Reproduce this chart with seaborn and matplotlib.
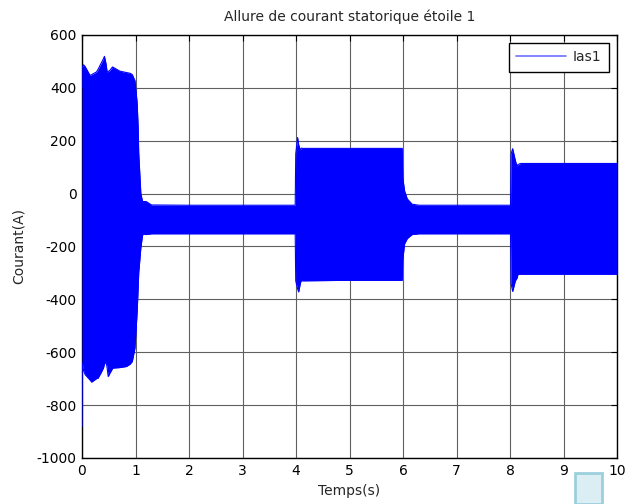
import numpy as np
import pandas as pd
import matplotlib
matplotlib.use("Agg")
import matplotlib.pyplot as plt
from matplotlib.lines import Line2D
from matplotlib.patches import Rectangle
import seaborn as sns

# envelope of the stator current Ias1
t_env = [0.0, 0.004, 0.03, 0.06, 0.15, 0.18, 0.27, 0.30, 0.35, 0.40, 0.42, 0.45, 0.47,
         0.49, 0.52, 0.57, 0.58, 0.71, 0.83, 0.90, 0.94, 0.99, 1.03, 1.05, 1.06, 1.10,
         1.13, 1.14, 1.20, 1.30, 2.00, 3.00, 3.985, 3.995, 4.03, 4.05, 4.08, 4.10,
         4.12, 5.00, 5.985, 5.995, 6.03, 6.08, 6.17, 6.30, 7.00, 8.01, 8.02, 8.05,
         8.10, 8.13, 8.15, 8.20, 9.00, 10.0]
upper = [400, 480, 487, 480, 447, 450, 460, 470, 490, 510, 519, 490, 460,
         462, 466, 479, 478, 463, 458, 455, 450, 427, 345, 250, 155, 0,
         -28, -30, -30, -43, -44, -44, -44, 150, 212, 185, 165, 172,
         171, 171, 171, 60, 10, -20, -40, -44, -44, -44, 150, 170,
         125, 104, 110, 114, 114, 114]
lower = [-880, -640, -670, -685, -705, -713, -700, -698, -680, -660, -645, -635, -660,
         -692, -680, -662, -660, -658, -654, -645, -635, -584, -450, -357, -300, -205,
         -160, -153, -155, -152, -152, -152, -152, -330, -360, -372, -340, -328,
         -330, -328, -328, -250, -190, -170, -155, -152, -152, -152, -340, -370,
         -330, -320, -305, -305, -305, -305]

x_ticks = [0, 1, 2, 3, 4, 5, 6, 7, 8, 9, 10]
y_ticks = [-1000, -800, -600, -400, -200, 0, 200, 400, 600]

df = pd.DataFrame({"t": t_env, "upper": upper, "lower": lower})

sns.set_style("white")
plt.rcParams["font.family"] = ["DejaVu Sans"]
plt.rcParams["font.size"] = 10

fig = plt.figure(figsize=(6.25, 5.04), dpi=100)
ax = fig.add_axes([0.1312, 0.0913, 0.856, 0.8393])

blue = "#0000ff"
ax.fill_between(df["t"], df["lower"], df["upper"], color=blue, linewidth=0, zorder=3)
sns.lineplot(data=df, x="t", y="upper", ax=ax, color=blue, linewidth=0.8, zorder=3)
sns.lineplot(data=df, x="t", y="lower", ax=ax, color=blue, linewidth=0.8, zorder=3)

ax.set_xlim(0, 10)
ax.set_ylim(-1000, 600)
ax.set_xticks(x_ticks)
ax.set_yticks(y_ticks)
ax.set_xticklabels([str(v) for v in x_ticks])
ax.set_yticklabels([str(v) for v in y_ticks])
ax.set_axisbelow(True)
ax.grid(True, color="#606060", linewidth=0.8, zorder=0)
ax.tick_params(direction="in", length=4, width=0.8, top=True, right=True,
               labelsize=10, colors="black", pad=4)
for s in ax.spines.values():
    s.set_color("black")
    s.set_linewidth(1.0)
    s.set_zorder(2)

ax.set_title("Allure de courant statorique étoile 1", fontsize=10, pad=10)
ax.set_xlabel("Temps(s)", fontsize=10, labelpad=5)
ax.set_ylabel("Courant(A)", fontsize=10, labelpad=8)

handle = Line2D([], [], color="#7070ff", linewidth=1.2)
leg = ax.legend([handle], ["Ias1"], loc="upper right", fontsize=10,
                frameon=True, fancybox=False, framealpha=1, edgecolor="black",
                handlelength=3.6, handletextpad=0.5, borderaxespad=0.55,
                borderpad=0.55)
leg.get_frame().set_linewidth(1.0)
leg.set_zorder(5)

# small light-blue box near the bottom-right corner of the picture
fig.patches.append(Rectangle((575 / 625, 0), 27 / 625, 31 / 504,
                             transform=fig.transFigure, facecolor="#dbeef3",
                             edgecolor="#9ccfdc", linewidth=2))

fig.savefig("out.png", dpi=100, facecolor="white")
